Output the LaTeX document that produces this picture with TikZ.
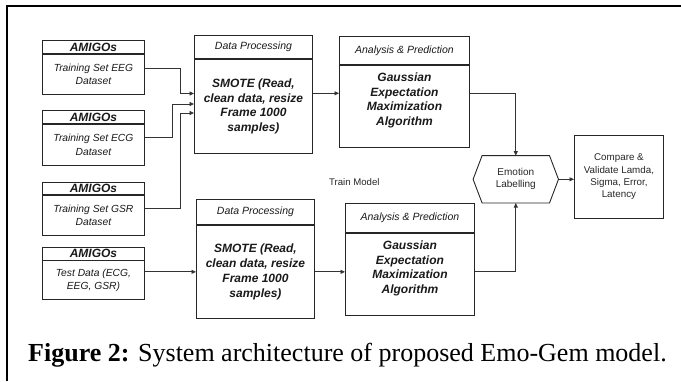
\documentclass[tikz,border=0pt]{standalone}
\usepackage{fontspec}
\setmainfont{Liberation Serif}
\setsansfont{Liberation Sans}
\usetikzlibrary{arrows.meta}
\begin{document}
\begin{tikzpicture}[x=1pt,y=-1pt,
  box/.style={draw=black!85, line width=0.9pt, rectangle, inner sep=0pt,
    anchor=north west, align=center, text=black!90},
  hdrbig/.style={font=\sffamily\bfseries\itshape\fontsize{12}{13}\selectfont},
  hdrsmall/.style={font=\sffamily\itshape\fontsize{10.5}{12}\selectfont},
  setfont/.style={font=\sffamily\itshape\fontsize{10.3}{13.3}\selectfont},
  bigfont/.style={font=\sffamily\bfseries\itshape\fontsize{12}{14.8}\selectfont},
  plain/.style={font=\sffamily\fontsize{10}{12}\selectfont, text=black!85},
  conn/.style={draw=black!80, line width=0.8pt},
  arr/.style={conn, -{Triangle[length=4.5pt,width=4pt]}},
]
\useasboundingbox (0,0) rectangle (681,381);

% outer frame (left and top edges)
\draw[line width=2.6pt] (7,381) -- (7,6) -- (681,6);

% dataset boxes
\node[box, hdrbig, minimum width=102pt, minimum height=13pt] (am1h) at (42,40) {AMIGOs};
\node[box, setfont, minimum width=102pt, minimum height=40pt] (am1b) at (am1h.south west) {Training Set EEG\\Dataset};
\node[box, hdrbig, minimum width=102pt, minimum height=13pt] (am2h) at (42,110) {AMIGOs};
\node[box, setfont, minimum width=102pt, minimum height=41pt] (am2b) at (am2h.south west) {Training Set ECG\\Dataset};
\node[box, hdrbig, minimum width=102pt, minimum height=12.5pt] (am3h) at (42,181.5) {AMIGOs};
\node[box, setfont, minimum width=102pt, minimum height=40pt] (am3b) at (am3h.south west) {Training Set GSR\\Dataset};
\node[box, hdrbig, minimum width=102pt, minimum height=13pt] (am4h) at (42,246.5) {AMIGOs};
\node[box, setfont, minimum width=102pt, minimum height=39pt] (am4b) at (am4h.south west) {Test Data (ECG,\\EEG, GSR)};

% data processing
\node[box, hdrsmall, minimum width=118pt, minimum height=23pt] (dp1h) at (194,35) {Data Processing};
\node[box, bigfont, minimum width=118pt, minimum height=94pt] (dp1b) at (dp1h.south west) {SMOTE (Read,\\clean data, resize\\Frame 1000\\samples)};
\node[box, hdrsmall, minimum width=118pt, minimum height=25pt] (dp2h) at (196,199) {Data Processing};
\node[box, bigfont, minimum width=118pt, minimum height=93pt] (dp2b) at (dp2h.south west) {SMOTE (Read,\\clean data, resize\\Frame 1000\\samples)};

% analysis and prediction
\node[box, hdrsmall, minimum width=130pt, minimum height=28pt] (an1h) at (339,36) {Analysis \& Prediction};
\node[box, minimum width=130pt, minimum height=82pt] (an1b) at (an1h.south west) {};
\node[bigfont, align=center, text=black!90] (an1t) at ([yshift=6pt]an1b.center) {Gaussian\\Expectation\\Maximization\\Algorithm};
\node[box, hdrsmall, minimum width=129pt, minimum height=29pt] (an2h) at (345,203) {Analysis \& Prediction};
\node[box, minimum width=129pt, minimum height=82pt] (an2b) at (an2h.south west) {};
\node[bigfont, align=center, text=black!90] (an2t) at ([yshift=6pt]an2b.center) {Gaussian\\Expectation\\Maximization\\Algorithm};

% labelling and comparison
\node[plain, align=center, minimum width=85pt, minimum height=47pt, inner sep=0pt] (hex) at (515.8,179.3) {Emotion\\Labelling};
\draw[draw=black!85, line width=0.9pt] (hex.west) -- ([xshift=9pt]hex.north west) -- ([xshift=-9pt]hex.north east)
  -- (hex.east) -- ([xshift=-9pt]hex.south east) -- ([xshift=9pt]hex.south west) -- cycle;
\node[box, plain, font=\sffamily\fontsize{9.8}{12.3}\selectfont, minimum width=89pt, minimum height=83pt] (cmp) at (574,135)
  {Compare \&\\Validate Lamda,\\Sigma, Error,\\Latency};

\node[plain, font=\sffamily\fontsize{9.6}{11}\selectfont, anchor=west, inner sep=0pt] (train) at (329,181.7) {Train Model};

% connectors
\coordinate (b1) at (180,93.5);
\coordinate (b2) at (172,104);
\coordinate (b3) at (180,113);
\coordinate (r1) at (0,93.3);
\draw[arr] ([yshift=6pt]am1b.east) -| (b1) -- (b1 -| dp1b.west);
\draw[arr] ([yshift=7pt]am2b.east) -| (b2) -- (b2 -| dp1b.west);
\draw[arr] ([yshift=7pt]am3b.east) -| (b3) -- (b3 -| dp1b.west);
\draw[arr] (am4b.east |- dp2b.west) -- (dp2b.west);
\draw[arr] (dp1b.east |- r1) -- (an1b.west |- r1);
\draw[arr] (dp2b.east) -- (an2b.west |- dp2b.east);
\draw[arr] (an1b.east |- r1) -| (hex.north);
\draw[arr] (an2b.east |- dp2b.east) -| (hex.south);
\draw[arr] (hex.east) -- (cmp.west |- hex.east);

% caption
\node[anchor=base west, inner sep=0pt, font=\fontsize{26}{30}\selectfont] (cap) at (28,361.5)
  {\textbf{Figure 2:} System architecture of proposed Emo-Gem model.};
\end{tikzpicture}
\end{document}
